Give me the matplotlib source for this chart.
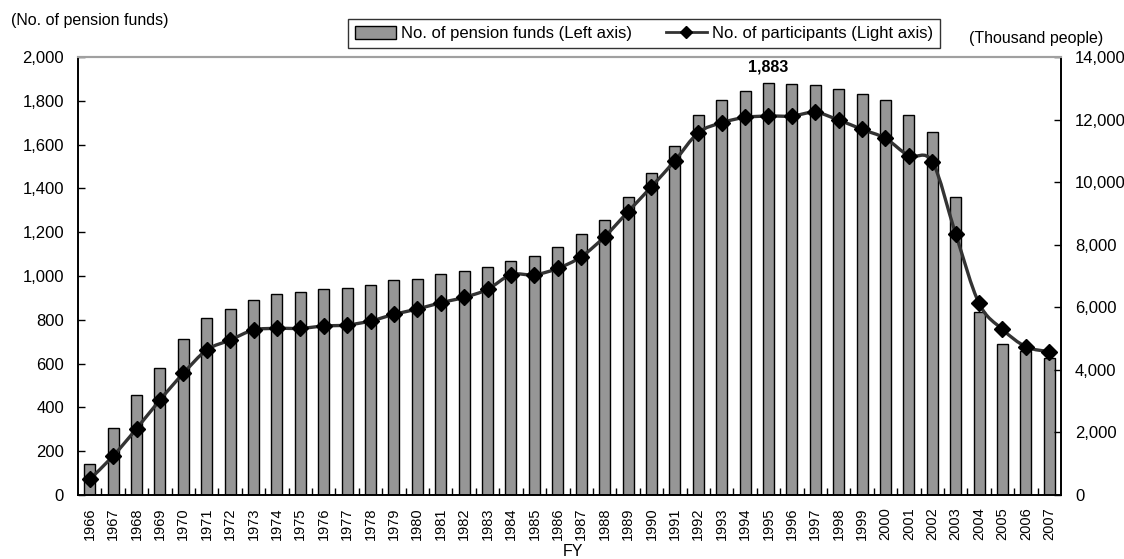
import matplotlib
matplotlib.use("Agg")
import matplotlib.pyplot as plt
import numpy as np
from matplotlib.path import Path
from matplotlib.patches import PathPatch, Patch
from matplotlib.lines import Line2D
from matplotlib.ticker import FuncFormatter, MultipleLocator

plt.rcParams['font.family'] = ['Liberation Sans', 'DejaVu Sans']

# data
years = list(range(1966, 2008))
funds = [142, 305, 455, 581, 712, 808, 851, 892, 916, 928,
         941, 947, 959, 982, 988, 1008, 1024, 1043, 1067, 1091,
         1131, 1192, 1257, 1359, 1472, 1592, 1737, 1802, 1845, 1883,
         1878, 1874, 1855, 1833, 1802, 1737, 1659, 1359, 837, 688,
         657, 627]
participants = [502, 1246, 2119, 3036, 3889, 4634, 4954, 5273, 5326, 5326,
                5401, 5433, 5561, 5774, 5944, 6146, 6317, 6573, 7040, 7040,
                7244, 7617, 8256, 9055, 9853, 10684, 11579, 11898, 12070, 12113,
                12113, 12230, 11985, 11687, 11399, 10844, 10652, 8341, 6126, 5294,
                4740, 4580]
peak_label = "1,883"

bar_color = '#969696'
line_color = '#333333'

fig = plt.figure(figsize=(11.24, 5.59), dpi=100)
ax = fig.add_axes([78/1124, 1 - 495/559, (1061-78)/1124, (495-57)/559])
ax2 = ax.twinx()

x = np.arange(len(years))
ax.bar(x, funds, width=0.47, color=bar_color, edgecolor='black', linewidth=1.0, zorder=2)

# smoothed line (Catmull-Rom style, like the spreadsheet "smooth line")
py = np.array(participants, dtype=float)
verts = [(x[0], py[0])]
codes = [Path.MOVETO]
n = len(py)
for i in range(n - 1):
    p0 = (x[max(i-1, 0)], py[max(i-1, 0)])
    p1 = (x[i], py[i])
    p2 = (x[i+1], py[i+1])
    p3 = (x[min(i+2, n-1)], py[min(i+2, n-1)])
    c1 = (p1[0] + (p2[0]-p0[0])/6, p1[1] + (p2[1]-p0[1])/6)
    c2 = (p2[0] - (p3[0]-p1[0])/6, p2[1] - (p3[1]-p1[1])/6)
    verts += [c1, c2, p2]
    codes += [Path.CURVE4]*3
ax2.add_patch(PathPatch(Path(verts, codes), facecolor='none', edgecolor=line_color, lw=2.4, zorder=3))
ax2.plot(x, py, linestyle='none', marker='D', markersize=8.5, color='black', zorder=4)

ax.set_xlim(-0.5, len(years) - 0.5)
ax.set_ylim(0, 2000)
ax2.set_ylim(0, 14000)

fmt = FuncFormatter(lambda v, p: f'{int(v):,}')
ax.yaxis.set_major_locator(MultipleLocator(200))
ax.yaxis.set_major_formatter(fmt)
ax2.yaxis.set_major_locator(MultipleLocator(2000))
ax2.yaxis.set_major_formatter(fmt)

ax.set_xticks(x)
ax.set_xticklabels([str(y) for y in years], rotation=90, fontsize=10.5)
ax.set_xticks(x[:-1] + 0.5, minor=True)
ax.tick_params(axis='x', which='major', length=0, pad=9)
ax.tick_params(axis='x', which='minor', direction='in', length=5, width=1)
ax.tick_params(axis='y', direction='in', length=5, width=1, labelsize=12, pad=10)
ax2.tick_params(axis='y', direction='in', length=5, width=1, labelsize=12, pad=10)

for a in (ax, ax2):
    a.spines['top'].set_color('#a0a0a0')
    a.spines['top'].set_linewidth(1.5)
    a.spines['left'].set_linewidth(1.2)
    a.spines['right'].set_linewidth(1.2)
    a.spines['bottom'].set_linewidth(1.2)

peak_i = int(np.argmax(funds))
ax.text(x[peak_i], funds[peak_i] + 35, peak_label, ha='center', va='bottom',
        fontsize=11.5, fontweight='bold')

handles = [Patch(facecolor=bar_color, edgecolor='black', linewidth=1.0),
           Line2D([], [], color=line_color, lw=2, marker='D', markersize=6.5,
                  markerfacecolor='black', markeredgecolor='black')]
labels = ['No. of pension funds (Left axis)', 'No. of participants (Light axis)']
leg = fig.legend(handles, labels, loc='center', ncol=2,
                 bbox_to_anchor=((350 + 938) / 2 / 1124, 1 - 33.5 / 559),
                 fontsize=12, frameon=True, fancybox=False, edgecolor='black',
                 handlelength=2.5, handleheight=0.8, columnspacing=2.0,
                 borderpad=0.4, handletextpad=0.3)
leg.get_frame().set_linewidth(1.0)

fig.text(11/1124, 1 - 20/559, '(No. of pension funds)', ha='left', va='center', fontsize=11.5)
fig.text(1103/1124, 1 - 38/559, '(Thousand people)', ha='right', va='center', fontsize=11.5)
fig.text(573/1124, 1 - 551/559, 'FY', ha='center', va='center', fontsize=11.5)

fig.savefig('out.png', dpi=100)
